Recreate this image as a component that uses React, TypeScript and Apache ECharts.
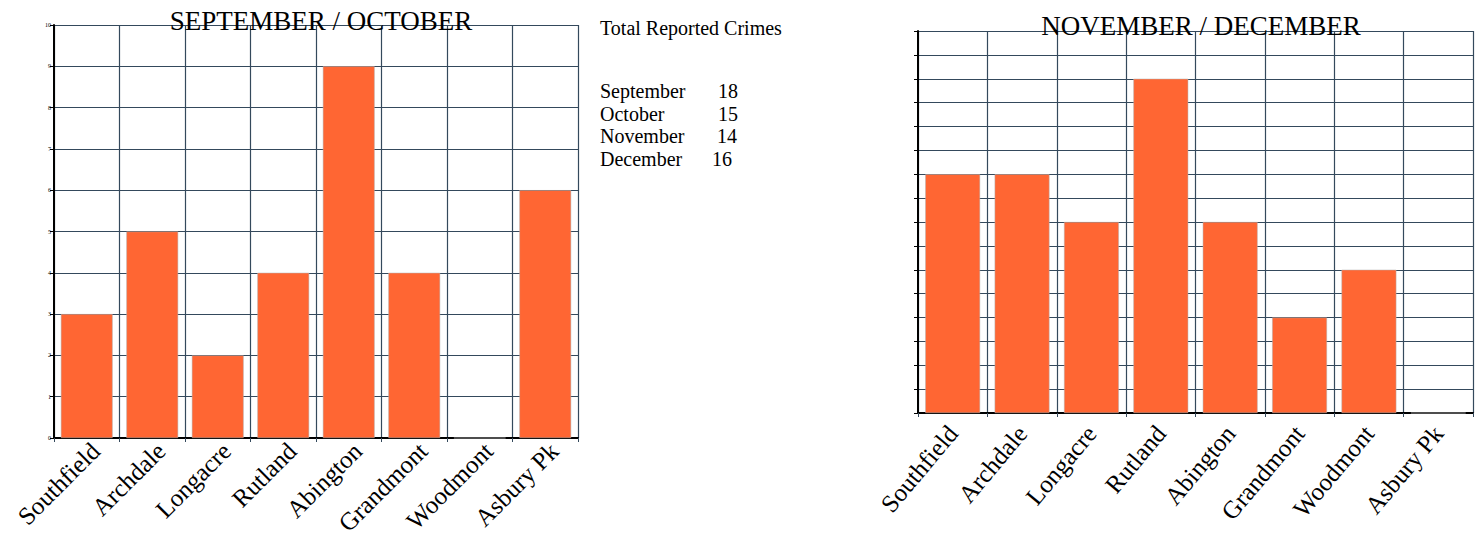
import React, { useEffect, useRef } from "react";
import * as echarts from "echarts";

const categories = ["Southfield", "Archdale", "Longacre", "Rutland", "Abington", "Grandmont", "Woodmont", "Asbury Pk"];
const sepOctValues = [3, 5, 2, 4, 9, 4, 0, 6];
const novDecValues = [5, 5, 4, 7, 4, 2, 3, 0];
const leftTitle = "SEPTEMBER / OCTOBER";
const rightTitle = "NOVEMBER / DECEMBER";
const totalsTitle = "Total Reported Crimes";
const months = ["September", "October", "November", "December"];
const totals = [18, 15, 14, 16];

const SERIF = "'Liberation Serif', 'DejaVu Serif', serif";
const GRID_COLOR = "#34495c";
const BAR_COLOR = "#FF6633";

export default function App() {
  const ref = useRef<HTMLDivElement>(null);
  useEffect(() => {
    if (!ref.current) return;
    const chart = echarts.init(ref.current, null, { renderer: "svg" });
    const xAxisBase = (gridIndex: number, fontSize: number, margin: number, rotate: number, vAlign: string) => ({
      type: "category",
      gridIndex,
      data: categories,
      boundaryGap: true,
      axisLine: { show: true, lineStyle: { color: "#000", width: 2 } },
      axisTick: { show: true, alignWithLabel: false, length: 4, lineStyle: { color: GRID_COLOR } },
      splitLine: { show: true, interval: 0, lineStyle: { color: GRID_COLOR, width: 1.2 } },
      axisLabel: {
        interval: 0,
        rotate,
        fontFamily: SERIF,
        fontSize,
        color: "#000",
        margin,
        verticalAlign: vAlign,
        hideOverlap: false,
      },
    });
    const monthTexts = months.map((m, i) => ({
      type: "text",
      left: 600,
      top: 81 + i * 22.5,
      style: { text: m, font: `20px ${SERIF}`, fill: "#000" },
    }));
    const totalTexts = totals.map((t, i) => ({
      type: "text",
      left: [718, 718, 717, 712][i],
      top: 81 + i * 22.5,
      style: { text: String(t), font: `20px ${SERIF}`, fill: "#000" },
    }));
    chart.setOption({
      animation: false,
      backgroundColor: "#fff",
      title: [
        {
          text: leftTitle,
          left: 316,
          top: 2,
          textAlign: "center",
          textStyle: { fontFamily: SERIF, fontSize: 27, fontWeight: "normal", color: "#000" },
        },
        {
          text: rightTitle,
          left: 1196,
          top: 7,
          textAlign: "center",
          textStyle: { fontFamily: SERIF, fontSize: 27, fontWeight: "normal", color: "#000" },
        },
      ],
      grid: [
        { left: 54, top: 25, width: 524, height: 413, containLabel: false, outerBoundsMode: "none" },
        { left: 918, top: 31, width: 555, height: 382, containLabel: false, outerBoundsMode: "none" },
      ],
      xAxis: [xAxisBase(0, 25, 0, 45, "top"), xAxisBase(1, 25, 16, 50, "middle")],
      yAxis: [
        {
          type: "value",
          gridIndex: 0,
          min: 0,
          max: 10,
          interval: 1,
          axisLine: { show: true, lineStyle: { color: "#000", width: 2 } },
          axisTick: { show: true, length: 4, lineStyle: { color: "#000" } },
          splitLine: { show: true, lineStyle: { color: GRID_COLOR, width: 1.2 } },
          axisLabel: { fontSize: 6, color: "#000", margin: 3, fontFamily: SERIF },
        },
        {
          type: "value",
          gridIndex: 1,
          min: 0,
          max: 8,
          interval: 0.5,
          axisLine: { show: true, lineStyle: { color: "#000", width: 2 } },
          axisTick: { show: true, length: 4, lineStyle: { color: "#000" } },
          splitLine: { show: true, lineStyle: { color: GRID_COLOR, width: 1.2 } },
          axisLabel: { show: false },
        },
      ],
      series: [
        {
          type: "bar",
          xAxisIndex: 0,
          yAxisIndex: 0,
          data: sepOctValues,
          barWidth: "79%",
          itemStyle: { color: BAR_COLOR, borderColor: "#b0b0b0", borderWidth: 0.5 },
        },
        {
          type: "bar",
          xAxisIndex: 1,
          yAxisIndex: 1,
          data: novDecValues,
          barWidth: "79%",
          itemStyle: { color: BAR_COLOR, borderColor: "#b0b0b0", borderWidth: 0.5 },
        },
      ],
      graphic: [
        {
          type: "text",
          left: 600,
          top: 18,
          style: { text: totalsTitle, font: `20px ${SERIF}`, fill: "#000" },
        },
        ...monthTexts,
        ...totalTexts,
      ],
    });
    return () => chart.dispose();
  }, []);
  return (
    <div
      ref={ref}
      style={{ position: "fixed", left: 0, top: 0, width: 1478, height: 540, background: "#fff" }}
    />
  );
}
